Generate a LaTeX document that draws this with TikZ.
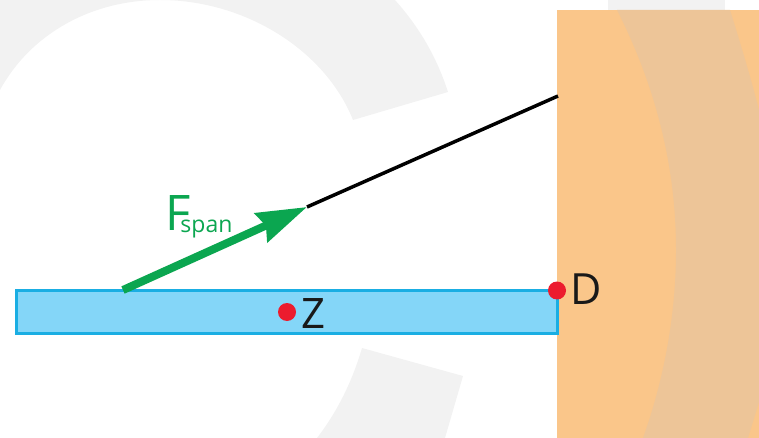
\documentclass[tikz,border=0pt]{standalone}
\usepackage{fontspec}
\setmainfont{Open Sans}
\usetikzlibrary{arrows.meta}
\definecolor{wallfill}{HTML}{FAC68A}
\definecolor{wallring}{HTML}{EDC598}
\definecolor{markgray}{HTML}{F2F2F2}
\definecolor{barfill}{HTML}{84D6F8}
\definecolor{barline}{HTML}{1AAEE3}
\definecolor{spangreen}{HTML}{0BA650}
\definecolor{pointred}{HTML}{EC1C2E}
\tikzset{
  point/.style={circle,fill=pointred,inner sep=0pt,minimum size=18pt},
  letter/.style={text=black!90,inner sep=0pt,anchor=base west},
}
\begin{document}
\begin{tikzpicture}[x=1pt,y=-1pt]
        \useasboundingbox (0,0) rectangle (759,438);

        % faint mark behind everything
        \fill [markgray] (0,0) -- (395,0) .. controls (420,28) and (437,58) .. (448,92) -- (353,120)
          .. controls (325,50) and (245,0) .. (160,0) .. controls (90,0) and (30,35) .. (0,90) -- cycle;
        \fill [markgray] (362,348) -- (463,376) -- (445,438) -- (317,438) .. controls (337,412) and (352,382) .. (362,348) -- cycle;
        \fill [markgray] (608,0) rectangle (725,10);

        % wall
        \fill [wallfill] (557,10) rectangle (759,438);
        \fill [wallring] (617,10) .. controls (655,85) and (676,165) .. (676,250)
          .. controls (676,320) and (662,385) .. (643,438) -- (748,438) -- (759,402) -- (759,110)
          .. controls (750,75) and (740,42) .. (730,10) -- cycle;

        \node (bar) [draw=barline,fill=barfill,line width=3.5pt,minimum width=541pt,minimum height=43pt,inner sep=0pt] at (287,312) {};
        \coordinate (start) at (123,290);
        \coordinate (tip) at (307,207);
        \coordinate (anchor) at (558,96);

        \draw [line width=3.5pt,black] (tip) to (anchor);
        \draw [-{Stealth[length=50pt,width=31pt,inset=5pt]},line width=8pt,spangreen] (start) to (tip);

        \node (z) [point] at (287,312) {};
        \node (d) [point] at (557,290.5) {};
        \node (zlabel) [letter,font=\fontsize{42}{42}\selectfont] at (301,328) {Z};
        \node (dlabel) [letter,font=\fontsize{43}{43}\selectfont] at (570,304) {D};

        \node (fspan) [text=spangreen,inner sep=0pt,anchor=base west] at (165,230) {\fontsize{49}{49}\selectfont F\kern-10pt\raisebox{-2pt}{\fontsize{23}{23}\selectfont span}};
      \end{tikzpicture}
\end{document}
